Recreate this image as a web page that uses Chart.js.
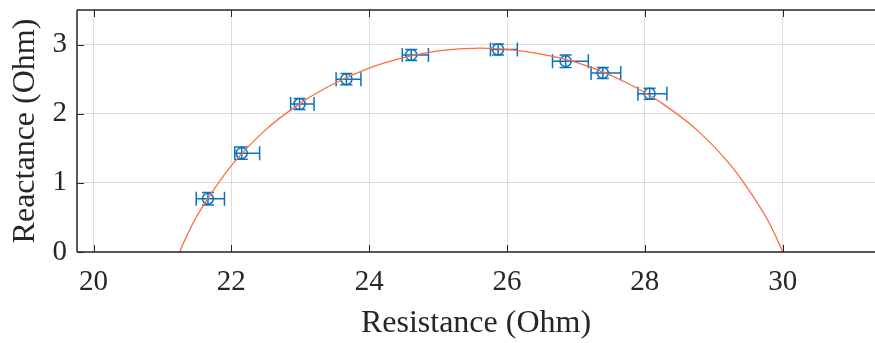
<!DOCTYPE html>
<html>
<head>
<meta charset="utf-8">
<script src="https://cdn.jsdelivr.net/npm/chart.js@4"></script>
<style>
  html, body { margin: 0; padding: 0; background: #fff; }
  canvas { display: block; }
</style>
</head>
<body>
<canvas id="nyquistChart" width="875" height="343"></canvas>
<script>
// measured points (Ohm)
var resistance = [21.66, 22.15, 22.99, 23.67, 24.61, 25.87, 26.85, 27.39, 28.07];
var reactance  = [0.77, 1.43, 2.14, 2.50, 2.85, 2.93, 2.76, 2.59, 2.29];
// horizontal error bar ends
var resLow  = [21.49, 22.05, 22.86, 23.52, 24.48, 25.76, 26.66, 27.22, 27.90];
var resHigh = [21.90, 22.41, 23.20, 23.88, 24.86, 26.15, 27.18, 27.65, 28.32];
// vertical error (+/-)
var reactErr = [0.09, 0.09, 0.08, 0.08, 0.08, 0.08, 0.09, 0.08, 0.08];

// fitted arc
var fitRes   = [21.25, 21.30, 21.40, 21.50, 21.75, 22.00, 22.50, 23.00, 23.50, 24.00, 24.50, 25.00, 25.60,
                26.20, 26.75, 27.25, 27.75, 28.25, 28.75, 29.25, 29.50, 29.75, 29.85, 29.95, 30.00];
var fitReact = [0.00, 0.12, 0.33, 0.52, 0.91, 1.25, 1.77, 2.15, 2.44, 2.66, 2.81, 2.91, 2.95,
                2.91, 2.81, 2.66, 2.44, 2.15, 1.77, 1.25, 0.91, 0.52, 0.33, 0.12, 0.00];

var xTicks = [20, 22, 24, 26, 28, 30];
var yTicks = [0, 1, 2, 3];

var blue = '#0a72bd';
var orange = '#ff6b3d';
var axisColor = '#262626';

var points = resistance.map(function (r, i) { return { x: r, y: reactance[i] }; });
var arc = fitRes.map(function (r, i) { return { x: r, y: fitReact[i] }; });

var errorBars = {
    id: 'errorBars',
    beforeDatasetsDraw: function (chart) {
        var xs = chart.scales.x, ys = chart.scales.y, ctx = chart.ctx;
        ctx.save();
        ctx.strokeStyle = blue;
        ctx.lineWidth = 1.5;
        ctx.beginPath();
        for (var i = 0; i < resistance.length; i++) {
            var cy = ys.getPixelForValue(reactance[i]);
            var cx = xs.getPixelForValue(resistance[i]);
            var x0 = xs.getPixelForValue(resLow[i]), x1 = xs.getPixelForValue(resHigh[i]);
            var y0 = ys.getPixelForValue(reactance[i] - reactErr[i]);
            var y1 = ys.getPixelForValue(reactance[i] + reactErr[i]);
            // horizontal bar + caps
            ctx.moveTo(x0, cy); ctx.lineTo(x1, cy);
            ctx.moveTo(x0, cy - 7); ctx.lineTo(x0, cy + 7);
            ctx.moveTo(x1, cy - 7); ctx.lineTo(x1, cy + 7);
            // vertical bar + caps
            ctx.moveTo(cx, y0); ctx.lineTo(cx, y1);
            ctx.moveTo(cx - 6, y0); ctx.lineTo(cx + 6, y0);
            ctx.moveTo(cx - 6, y1); ctx.lineTo(cx + 6, y1);
        }
        ctx.stroke();
        ctx.restore();
    }
};

var frame = {
    id: 'frame',
    afterDraw: function (chart) {
        var a = chart.chartArea, xs = chart.scales.x, ys = chart.scales.y, ctx = chart.ctx;
        ctx.save();
        ctx.strokeStyle = axisColor;
        ctx.lineWidth = 1.5;
        ctx.beginPath();
        ctx.moveTo(a.left, a.top); ctx.lineTo(a.right, a.top);
        ctx.moveTo(a.left, a.top); ctx.lineTo(a.left, a.bottom);
        ctx.moveTo(a.left, a.bottom); ctx.lineTo(a.right, a.bottom);
        ctx.stroke();
        ctx.lineWidth = 1;
        ctx.beginPath();
        xTicks.forEach(function (v) {
            var px = Math.round(xs.getPixelForValue(v)) + 0.5;
            ctx.moveTo(px, a.bottom); ctx.lineTo(px, a.bottom - 7);
            ctx.moveTo(px, a.top); ctx.lineTo(px, a.top + 7);
        });
        yTicks.forEach(function (v) {
            var py = Math.round(ys.getPixelForValue(v)) + 0.5;
            ctx.moveTo(a.left, py); ctx.lineTo(a.left + 7, py);
        });
        ctx.stroke();
        ctx.restore();
    }
};

function noPad(s) {
    s.paddingTop = 0; s.paddingBottom = 0; s.paddingLeft = 0; s.paddingRight = 0;
}

new Chart(document.getElementById('nyquistChart'), {
    type: 'scatter',
    data: {
        datasets: [
            {
                label: 'Fit',
                data: arc,
                showLine: true,
                borderColor: orange,
                borderWidth: 1.3,
                pointRadius: 0,
                cubicInterpolationMode: 'monotone',
                order: 0
            },
            {
                label: 'Measured',
                data: points,
                pointStyle: 'circle',
                pointRadius: 5.5,
                borderColor: blue,
                borderWidth: 1.5,
                backgroundColor: 'rgba(0,0,0,0)',
                order: 1
            }
        ]
    },
    plugins: [errorBars, frame],
    options: {
        responsive: false,
        animation: false,
        layout: { autoPadding: false, padding: { top: 10, right: 0, left: 0, bottom: 0 } },
        plugins: { legend: { display: false }, tooltip: { enabled: false } },
        scales: {
            x: {
                type: 'linear',
                min: 19.76,
                max: 31.34,
                afterBuildTicks: function (s) { s.ticks = xTicks.map(function (v) { return { value: v }; }); },
                afterFit: function (s) { s.height = 91; noPad(s); },
                grid: { color: 'rgba(0,0,0,0.13)', drawTicks: false },
                border: { display: false },
                ticks: {
                    color: axisColor,
                    padding: 13,
                    maxRotation: 0,
                    font: { family: 'Liberation Serif', size: 29 }
                },
                title: {
                    display: true,
                    text: 'Resistance (Ohm)',
                    color: axisColor,
                    padding: { top: 0, bottom: 0 },
                    font: { family: 'Liberation Serif', size: 32 }
                }
            },
            y: {
                type: 'linear',
                min: 0,
                max: 3.5,
                afterBuildTicks: function (s) { s.ticks = yTicks.map(function (v) { return { value: v }; }); },
                afterFit: function (s) { s.width = 77; noPad(s); },
                grid: { color: 'rgba(0,0,0,0.13)', drawTicks: false },
                border: { display: false },
                ticks: {
                    color: axisColor,
                    padding: 10,
                    font: { family: 'Liberation Serif', size: 29 }
                },
                title: {
                    display: true,
                    text: 'Reactance (Ohm)',
                    color: axisColor,
                    padding: { top: 6, bottom: 0 },
                    font: { family: 'Liberation Serif', size: 32 }
                }
            }
        }
    }
});
</script>
</body>
</html>
